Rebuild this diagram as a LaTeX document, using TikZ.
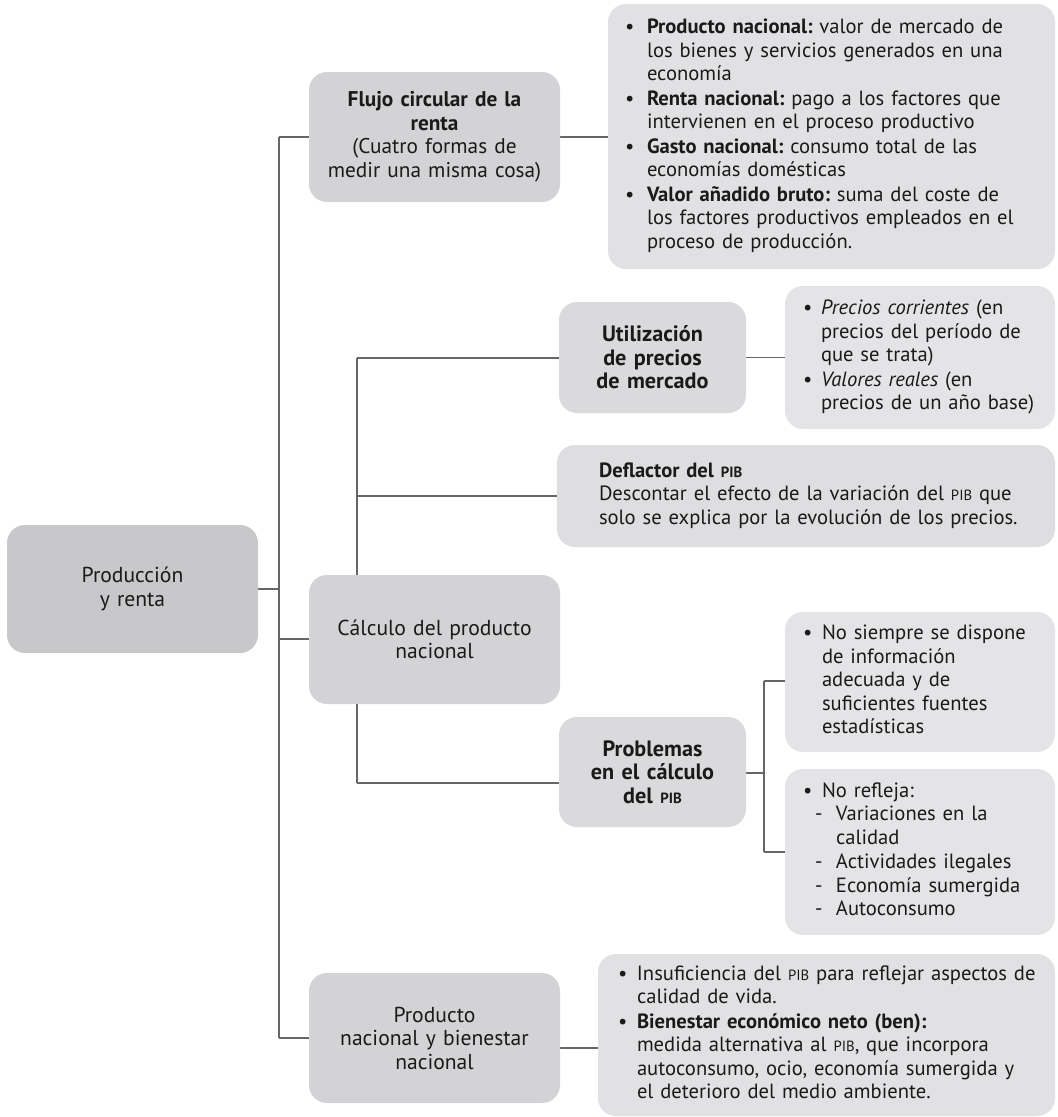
\documentclass[tikz,border=0pt]{standalone}
\usepackage{fontspec}
\setmainfont{PT Sans}
\usetikzlibrary{backgrounds}
\setlength\parindent{0pt}
\frenchspacing

\definecolor{ink}{HTML}{1A1A1A}
\definecolor{wire}{HTML}{666666}
\definecolor{rootfill}{HTML}{C8C8CA}
\definecolor{lvlone}{HTML}{D3D3D5}
\definecolor{lvltwo}{HTML}{DADADC}
\definecolor{deflfill}{HTML}{DEDEE0}
\definecolor{leaffill}{HTML}{E4E4E6}
\definecolor{widefill}{HTML}{E1E1E3}

% small capitals for the acronym
\newcommand\pib{{\fontsize{14.8}{16}\selectfont PIB}}
% bullet item: marker box, then lines set in a left-aligned column
\newcommand\bul[2][22pt]{\makebox[#1][l]{•}\begin{tabular}[t]{@{}l@{}}#2\end{tabular}\par}
% dash sub-item
\newcommand\subdash[1]{\hspace*{12pt}\makebox[21pt][l]{-}\begin{tabular}[t]{@{}l@{}}#1\end{tabular}\par}

\tikzset{
  box/.style={rectangle, rounded corners=18pt, inner xsep=0pt, inner ysep=0pt,
    text=ink, font=\fontsize{20.6}{23.5}\selectfont},
  centred/.style={box, align=center, font=\fontsize{21.6}{23.5}\selectfont},
  boldcentred/.style={box, align=center, font=\fontsize{22.2}{23.5}\selectfont\bfseries},
  listbox/.style={box},
  conn/.style={draw=wire, line width=1.3pt}
}

\begin{document}
\begin{tikzpicture}[x=1pt, y=-1pt]
\useasboundingbox (0,0) rectangle (1058,1117);

% ---- boxes ----
\node[centred, fill=rootfill, minimum width=251pt, minimum height=128pt, text width=241pt]
  (root) at (132.5,589) {Producción\\y renta};

\node[centred, fill=lvlone, minimum width=251pt, minimum height=130pt, text width=247pt,
      font=\fontsize{21.3}{23.5}\selectfont]
  (flujo) at (434.5,137) {{\bfseries Flujo circular de la\\renta}\\(Cuatro formas de\\medir una misma cosa)};

\node[listbox, fill=widefill, minimum width=447pt, minimum height=265pt, text width=413pt]
  (defs) at (831.5,136.5) {%
  \bul{\textbf{Producto nacional:} valor de mercado de\\los bienes y servicios generados en una\\economía}%
  \bul{\textbf{Renta nacional:} pago a los factores que\\intervienen en el proceso productivo}%
  \bul{\textbf{Gasto nacional:} consumo total de las\\economías domésticas}%
  \bul{\textbf{Valor añadido bruto:} suma del coste de\\los factores productivos empleados en el\\proceso de producción.}};

\node[centred, fill=lvlone, minimum width=251pt, minimum height=129pt, text width=245pt]
  (calc) at (434.5,639.5) {Cálculo del producto\\nacional};

\node[boldcentred, fill=lvltwo, minimum width=187pt, minimum height=111pt, text width=183pt]
  (util) at (652.5,357.5) {Utilización\\de precios\\de mercado};

\node[listbox, fill=leaffill, minimum width=270pt, minimum height=143pt, text width=234pt]
  (precios) at (920,357.5) {%
  \bul[18pt]{\textit{Precios corrientes} (en\\precios del período de\\que se trata)}%
  \bul[18pt]{\textit{Valores reales} (en\\precios de un año base)}};

\node[listbox, fill=deflfill, minimum width=498pt, minimum height=102pt, text width=414pt]
  (defl) at (806,496) {\begin{tabular}{@{}l@{}}\textbf{Deflactor del \pib}\\Descontar el efecto de la variación del \pib{} que\\solo se explica por la evolución de los precios.\end{tabular}};

\node[boldcentred, fill=lvltwo, minimum width=187pt, minimum height=110pt, text width=183pt]
  (prob) at (652.5,772) {Problemas\\en el cálculo\\del \pib};

\node[listbox, fill=leaffill, minimum width=270pt, minimum height=140pt, text width=234pt]
  (nosi) at (920,682) {%
  \bul[19pt]{No siempre se dispone\\de información\\adecuada y de\\suficientes fuentes\\estadísticas}};

\node[listbox, fill=leaffill, minimum width=270pt, minimum height=166pt, text width=234pt]
  (noref) at (920,852) {%
  \bul[19pt]{No refleja:}%
  \subdash{Variaciones en la\\calidad}%
  \subdash{Actividades ilegales}%
  \subdash{Economía sumergida}%
  \subdash{Autoconsumo}};

\node[centred, fill=lvlone, minimum width=251pt, minimum height=130pt, text width=247pt]
  (prod) at (434.5,1038) {Producto\\nacional y bienestar\\nacional};

\node[listbox, fill=widefill, minimum width=457pt, minimum height=162pt, text width=417pt]
  (bien) at (826.5,1035) {%
  \bul[19pt]{Insuficiencia del \pib{} para reflejar aspectos de\\calidad de vida.}%
  \bul[19pt]{\textbf{Bienestar económico neto (ben):}\\medida alternativa al \pib, que incorpora\\autoconsumo, ocio, economía sumergida y\\el deterioro del medio ambiente.}};

% ---- junction points of the tree ----
\coordinate (sTop) at (279,137);
\coordinate (sRoot) at (279,589);
\coordinate (sCalc) at (279,639);
\coordinate (sBot) at (279,1038);
\coordinate (tUtil) at (357,358);
\coordinate (tDefl) at (357,496);
\coordinate (tProb) at (357,783);
\coordinate (bUp) at (764,681);
\coordinate (bMid) at (764,773);
\coordinate (bDown) at (764,852);
\coordinate (pb) at (580,1048);

% ---- connectors, behind the boxes ----
\begin{scope}[on background layer]
  \draw[conn] (root.east) -- (sRoot);
  \draw[conn] (sTop) -- (sBot);
  \draw[conn] (sTop) -- (flujo.west);
  \draw[conn] (sCalc) -- (sCalc -| calc.west);
  \draw[conn] (sBot) -- (prod.west);
  \draw[conn] (flujo.east) -- (flujo.east -| defs.west);
  \draw[conn] (tUtil) -- (tProb);
  \draw[conn] (tUtil) -- (tUtil -| util.west);
  \draw[conn] (util.east) -- (util.east -| precios.west);
  \draw[conn] (tDefl) -- (tDefl -| defl.west);
  \draw[conn] (tProb) -- (tProb -| prob.west);
  \draw[conn] (bMid -| prob.east) -- (bMid);
  \draw[conn] (bUp) -- (bDown);
  \draw[conn] (bUp) -- (bUp -| nosi.west);
  \draw[conn] (bDown) -- (bDown -| noref.west);
  \draw[conn] (pb -| prod.east) -- (pb -| bien.west);
\end{scope}
\end{tikzpicture}
\end{document}
